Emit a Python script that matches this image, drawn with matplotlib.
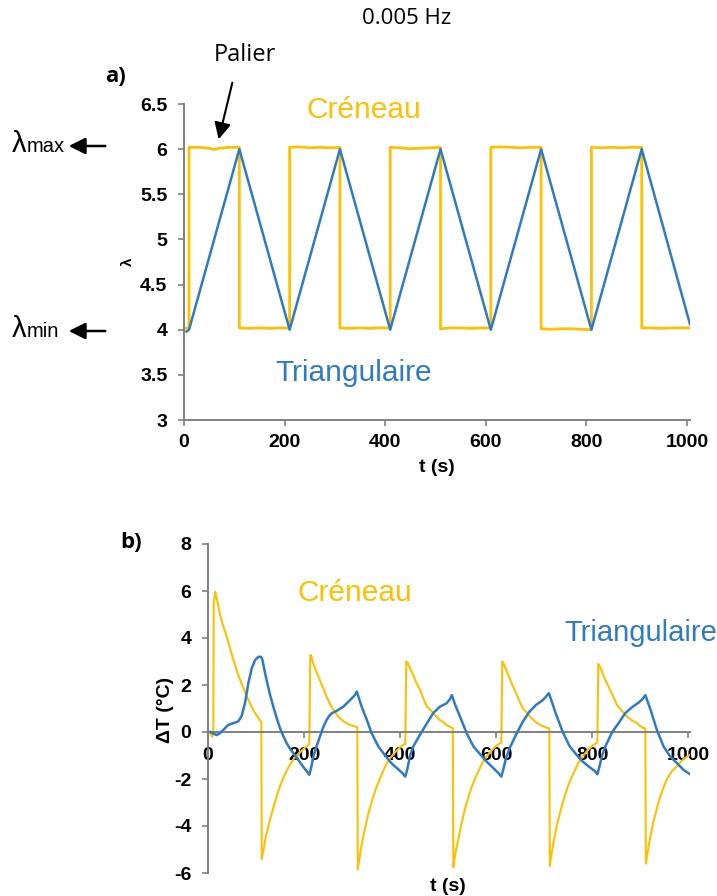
import matplotlib
matplotlib.use("Agg")
import matplotlib.pyplot as plt
from matplotlib.ticker import FuncFormatter

W, H = 717, 896
ORANGE = "#FFC000"
BLUE = "#2E7BC4"
SPINE = "#808080"

# ---------------- data: panel a ----------------
sq_t = [0, 5, 10,
        10, 30, 50, 60, 70, 90, 110, 110, 130, 150, 170, 190, 210,
        210, 230, 250, 270, 290, 310, 310, 330, 350, 370, 390, 410,
        410, 430, 450, 470, 490, 510, 510, 530, 550, 570, 590, 610,
        610, 630, 650, 670, 690, 710, 710, 730, 750, 770, 790, 810,
        810, 830, 850, 870, 890, 910, 910, 930, 950, 970, 990, 1006]
sq_lam = [4.01, 4.02, 4.01,
          6.02, 6.02, 6.01, 5.995, 6.01, 6.02, 6.02, 4.02, 4.015, 4.02, 4.015, 4.02, 4.02,
          6.02, 6.025, 6.015, 6.02, 6.015, 6.02, 4.02, 4.015, 4.02, 4.015, 4.02, 4.02,
          6.02, 6.015, 6.005, 6.01, 6.015, 6.02, 4.01, 4.02, 4.02, 4.015, 4.02, 4.02,
          6.02, 6.025, 6.02, 6.015, 6.02, 6.02, 4.01, 4.005, 4.01, 4.01, 4.005, 4.0,
          6.02, 6.015, 6.02, 6.015, 6.02, 6.02, 4.02, 4.02, 4.015, 4.02, 4.02, 4.02]

tri_t = [5, 10, 110, 210, 310, 410, 510, 610, 710, 810, 910, 1006]
tri_lam = [3.98, 4.0, 6.0, 4.0, 6.0, 4.0, 6.0, 4.0, 6.0, 4.0, 6.0, 4.06]

# ---------------- data: panel b ----------------
cr_t = [0, 5, 9, 11, 12, 15, 20, 25, 32, 39, 46, 53, 60, 67, 74, 81, 88, 94, 101, 108, 111,
        112, 116, 120, 127, 135, 142, 150, 158, 165, 172, 180, 188, 195, 203, 211,
        213, 214, 219, 226, 233, 240, 247, 254, 261, 268, 275, 282, 289, 296, 303, 311,
        312, 316, 320, 327, 335, 342, 350, 358, 365, 372, 380, 388, 395, 403, 411,
        413, 416, 421, 428, 435, 442, 449, 456, 463, 469, 476, 483, 490, 497, 504, 510,
        511, 515, 520, 527, 535, 542, 550, 558, 565, 572, 580, 588, 595, 603, 611,
        613, 616, 621, 628, 635, 642, 649, 656, 663, 669, 676, 683, 690, 697, 704, 711,
        712, 716, 720, 727, 735, 742, 750, 758, 765, 772, 780, 788, 795, 803, 811,
        813, 816, 821, 828, 835, 842, 852, 862, 873, 883, 894, 900, 908, 911,
        912, 916, 920, 927, 935, 942, 950, 956, 965, 977, 986, 994, 1006]
cr_dT = [0.0, -0.05, -0.2, -0.1, 5.5, 5.97, 5.5, 5.0, 4.5, 4.06, 3.55, 3.06, 2.6, 2.21, 1.85, 1.5, 1.2, 0.94, 0.72, 0.51, 0.42,
         -5.4, -5.0, -4.5, -3.9, -3.3, -2.8, -2.3, -1.9, -1.6, -1.35, -1.1, -0.95, -0.8, -0.65, -0.52,
         3.25, 3.28, 2.92, 2.55, 2.21, 1.85, 1.5, 1.2, 0.94, 0.75, 0.58, 0.46, 0.37, 0.3, 0.26, 0.2,
         -5.85, -5.3, -4.8, -4.1, -3.4, -2.9, -2.4, -2.0, -1.65, -1.35, -1.1, -0.9, -0.75, -0.6, -0.5,
         3.0, 2.95, 2.7, 2.4, 2.05, 1.79, 1.4, 1.08, 0.95, 0.8, 0.65, 0.51, 0.42, 0.3, 0.22, 0.16,
         -5.75, -5.2, -4.7, -4.0, -3.3, -2.8, -2.3, -1.9, -1.6, -1.3, -1.05, -0.85, -0.7, -0.55, -0.45,
         3.0, 2.9, 2.65, 2.3, 1.95, 1.65, 1.3, 1.0, 0.85, 0.7, 0.55, 0.42, 0.33, 0.25, 0.2, 0.15,
         -5.7, -5.15, -4.65, -3.95, -3.3, -2.8, -2.3, -1.9, -1.6, -1.3, -1.05, -0.85, -0.7, -0.55, -0.45,
         2.9, 2.8, 2.55, 2.2, 1.9, 1.6, 1.15, 0.9, 0.65, 0.5, 0.37, 0.25, 0.16, 0.15,
         -5.6, -5.1, -4.6, -3.9, -3.25, -2.75, -2.3, -2.0, -1.7, -1.45, -1.25, -1.1, -0.95]

tr_t = [5, 10, 18, 25, 32, 42, 53, 63, 70, 77, 84, 91, 98, 105, 110, 113, 117, 122, 129, 136, 143, 150,
        157, 164, 171, 178, 185, 192, 199, 205, 211,
        215, 220, 226, 233, 240, 247, 253, 258, 268, 282, 296, 306, 310, 315, 320, 331, 341, 355, 369,
        383, 397, 405, 411,
        415, 421, 428, 435, 442, 456, 469, 483, 497, 504, 508, 514, 525, 539, 553, 567, 580, 595, 605, 611,
        615, 621, 628, 635, 642, 656, 669, 683, 697, 704, 710, 716, 725, 739, 753, 767, 780, 795, 805, 811,
        815, 821, 828, 835, 842, 856, 869, 883, 897, 905, 911, 922, 935, 949, 963, 977, 991, 1006]
tr_dT = [0.0, -0.05, -0.13, -0.05, 0.09, 0.3, 0.38, 0.45, 0.68, 1.22, 2.07, 2.71, 3.06, 3.2, 3.2, 3.1, 2.7, 2.21, 1.6, 1.08, 0.6, 0.16,
         -0.18, -0.48, -0.72, -0.9, -1.1, -1.3, -1.5, -1.65, -1.82,
         -1.5, -1.0, -0.62, -0.2, 0.2, 0.51, 0.7, 0.8, 0.9, 1.08, 1.36, 1.57, 1.72, 1.4, 1.08, 0.51, -0.06, -0.62, -1.0,
         -1.35, -1.6, -1.75, -1.9,
         -1.6, -1.0, -0.6, -0.35, -0.1, 0.37, 0.8, 1.08, 1.22, 1.4, 1.57, 1.2, 0.65, -0.06, -0.62, -0.95, -1.25, -1.55, -1.75, -1.9,
         -1.6, -1.1, -0.7, -0.4, -0.1, 0.45, 0.85, 1.15, 1.35, 1.5, 1.65, 1.3, 0.75, 0.0, -0.6, -0.95, -1.25, -1.5, -1.65, -1.8,
         -1.5, -1.0, -0.6, -0.3, 0.0, 0.4, 0.8, 1.05, 1.25, 1.4, 1.57, 0.94, 0.09, -0.62, -1.05, -1.33, -1.62, -1.82]

xticks = [0, 200, 400, 600, 800, 1000]
yticks_a = [3, 3.5, 4, 4.5, 5, 5.5, 6, 6.5]
yticks_b = [-6, -4, -2, 0, 2, 4, 6, 8]

# ---------------- figure ----------------
plt.rcParams["font.family"] = ["Liberation Sans", "DejaVu Sans"]
fig = plt.figure(figsize=(W / 100, H / 100), dpi=100)


def fx(x):
    return x / W


def fy(y):
    return 1 - y / H


def rect(x0, x1, ytop, ybot):
    return [fx(x0), fy(ybot), fx(x1) - fx(x0), fy(ytop) - fy(ybot)]


fmt = FuncFormatter(lambda v, p: f"{v:g}")


def style(ax):
    for s in ("top", "right"):
        ax.spines[s].set_visible(False)
    for s in ("left", "bottom"):
        ax.spines[s].set_color(SPINE)
        ax.spines[s].set_linewidth(1.4)
    ax.tick_params(axis="both", colors=SPINE, length=4, width=1.2, direction="out",
                   labelsize=14, labelcolor="black")
    ax.xaxis.set_major_formatter(fmt)
    ax.yaxis.set_major_formatter(fmt)
    for lab in ax.get_xticklabels() + ax.get_yticklabels():
        lab.set_fontweight("bold")
    ax.patch.set_alpha(0)


# panel a
axa = fig.add_axes(rect(184, 690, 104, 420))
axa.plot(sq_t, sq_lam, color=ORANGE, lw=2.0, zorder=2)
axa.plot(tri_t, tri_lam, color=BLUE, lw=1.8, zorder=3)
axa.set_xlim(0, 1006)
axa.set_ylim(3, 6.5)
axa.set_xticks(xticks)
axa.set_yticks(yticks_a)
style(axa)
axa.tick_params(axis="y", pad=8)
axa.tick_params(axis="x", pad=6)
for lab in axa.get_xticklabels() + axa.get_yticklabels():
    lab.set_fontweight("bold")
axa.text(357, 6.43, "Créneau", color=ORANGE, fontsize=21.5, ha="center", va="center")
axa.text(338, 3.52, "Triangulaire", color=BLUE, fontsize=21.5, ha="center", va="center")

# panel b
axb = fig.add_axes(rect(208, 690, 544, 873))
axb.plot(cr_t, cr_dT, color=ORANGE, lw=1.5, zorder=2)
axb.plot(tr_t, tr_dT, color=BLUE, lw=1.8, zorder=3)
axb.set_xlim(0, 1004)
axb.set_ylim(-6, 8)
axb.set_xticks(xticks)
axb.set_yticks(yticks_b)
axb.spines["bottom"].set_position(("data", 0))
style(axb)
axb.tick_params(axis="y", pad=8)
axb.tick_params(axis="x", pad=7)
for lab in axb.get_xticklabels() + axb.get_yticklabels():
    lab.set_fontweight("bold")
axb.text(306, 5.9, "Créneau", color=ORANGE, fontsize=21.5, ha="center", va="center")
axb.text(1.0, 4.21, "Triangulaire", color=BLUE, fontsize=21, ha="right", va="center",
         transform=matplotlib.transforms.blended_transform_factory(fig.transFigure, axb.transData),
         clip_on=False)

# axis labels
fig.text(fx(437), fy(467), "t (s)", fontsize=14, fontweight="bold", ha="center", va="center")
fig.text(fx(448), fy(886), "t (s)", fontsize=14, fontweight="bold", ha="center", va="center")
fig.text(fx(128), fy(262), "λ", fontsize=11, fontweight="bold", ha="center", va="center", rotation=90)
fig.text(fx(165), fy(710), "ΔT (°C)", fontsize=14, fontweight="bold", ha="center", va="center",
         rotation=90)

# annotations
ann_font = ["Open Sans", "DejaVu Sans"]
fig.text(fx(407), fy(19), "0.005 Hz", fontsize=16, family=ann_font, ha="center", va="center")
fig.text(fx(245), fy(55), "Palier", fontsize=17, family=ann_font, ha="center", va="center")
fig.text(fx(116), fy(76), "a)", fontsize=16, fontweight="bold", family=ann_font, ha="center", va="center")
fig.text(fx(131), fy(543), "b)", fontsize=16, fontweight="bold", family=ann_font, ha="center", va="center")

fig.patches.append(matplotlib.patches.FancyArrowPatch(
    (fx(233), fy(80)), (fx(218), fy(142)), transform=fig.transFigure,
    arrowstyle="-|>,head_length=10,head_width=5", color="black", lw=1.5, mutation_scale=1))

for name, sub, ybase, yarr in (("λ", "max", 152, 146), ("λ", "min", 337, 331)):
    fig.text(fx(12), fy(ybase), name, fontsize=21, ha="left", va="baseline")
    fig.text(fx(27), fy(ybase), sub, fontsize=14.5, ha="left", va="baseline")
    fig.patches.append(matplotlib.patches.FancyArrowPatch(
        (fx(108), fy(yarr)), (fx(66), fy(yarr)), transform=fig.transFigure,
        arrowstyle="-|>,head_length=10,head_width=5", color="black", lw=1.8, mutation_scale=1))

fig.savefig("out.png", dpi=100)
